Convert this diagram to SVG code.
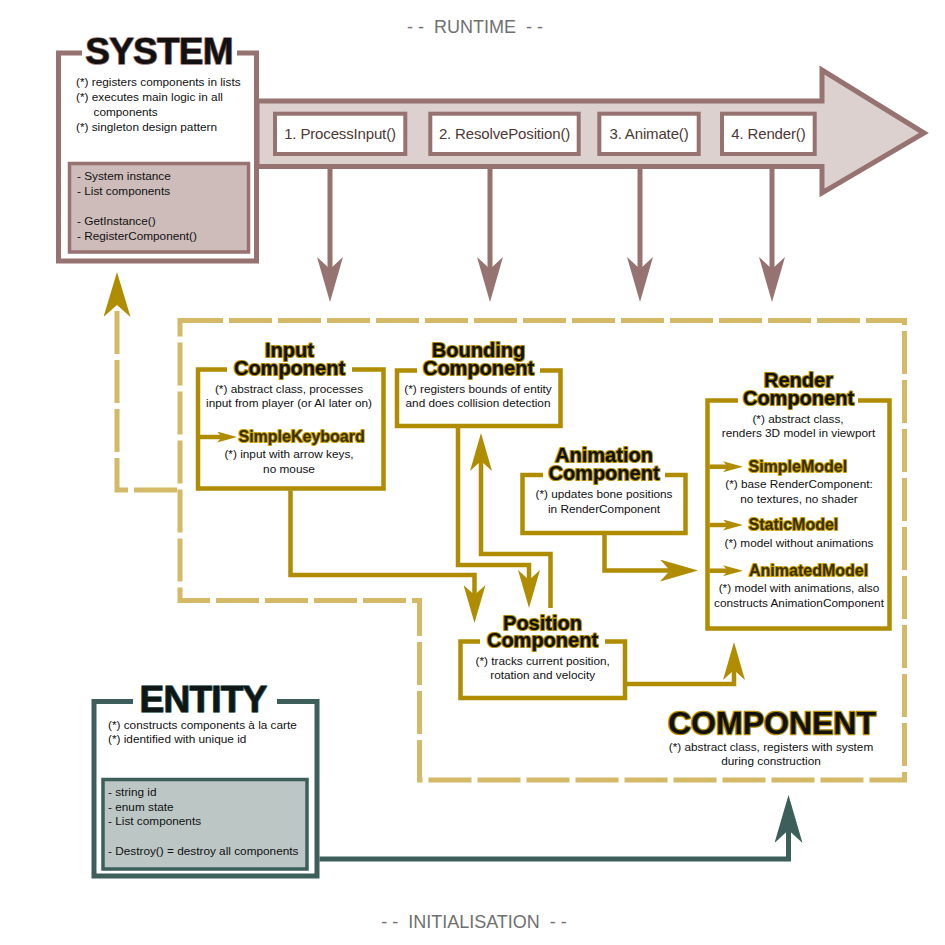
<svg xmlns="http://www.w3.org/2000/svg" width="945" height="945" viewBox="0 0 945 945">
<style>
text{font-family:"Liberation Sans",Arial,sans-serif;}
.t{font-size:11.8px;fill:#111;}
.c{text-anchor:middle;}
.step{font-size:15px;fill:#4e3836;text-anchor:middle;letter-spacing:-0.15px;}
.title{font-size:20px;font-weight:bold;fill:#111;stroke:#b08c00;stroke-width:2.2px;paint-order:stroke;stroke-linejoin:round;text-anchor:middle;}
.sub{font-size:16px;font-weight:bold;fill:#3a2f00;stroke:#c9a200;stroke-width:2px;paint-order:stroke;stroke-linejoin:round;}
.big{font-weight:bold;paint-order:stroke;stroke-linejoin:round;text-anchor:middle;}
.gframe{fill:#fff;stroke:#b08c00;stroke-width:4.5;}
.gline{fill:none;stroke:#b08c00;stroke-width:4.5;}
.bline{fill:none;stroke:#967270;stroke-width:5;}
.dash{fill:none;stroke:#d4ba66;stroke-width:5;stroke-dasharray:43 6;}
.label{font-size:18px;fill:#707070;text-anchor:middle;white-space:pre;}
</style>
<defs>
<marker id="mBrown" markerUnits="userSpaceOnUse" orient="auto" markerWidth="45" markerHeight="26" refX="14" refY="13" viewBox="0 0 45 26"><path d="M0,0 L45,13 L0,26 L12,13 Z" fill="#967270"/></marker>
<marker id="mGold" markerUnits="userSpaceOnUse" orient="auto" markerWidth="38" markerHeight="22" refX="12" refY="11" viewBox="0 0 38 22"><path d="M0,0 L38,11 L0,22 L10,11 Z" fill="#b08c00"/></marker>
<marker id="mGoldS" markerUnits="userSpaceOnUse" orient="auto" markerWidth="20" markerHeight="11" refX="6" refY="5.5" viewBox="0 0 20 11"><path d="M0,0 L20,5.5 L0,11 L5,5.5 Z" fill="#b08c00"/></marker>
<marker id="mGoldD" markerUnits="userSpaceOnUse" orient="auto" markerWidth="45" markerHeight="27" refX="14" refY="13.5" viewBox="0 0 45 27"><path d="M0,0 L45,13.5 L0,27 L12,13.5 Z" fill="#b08c00"/></marker>
<marker id="mTeal" markerUnits="userSpaceOnUse" orient="auto" markerWidth="48" markerHeight="28" refX="15" refY="14" viewBox="0 0 48 28"><path d="M0,0 L48,14 L0,28 L13,14 Z" fill="#3c5f5c"/></marker>
</defs>

<rect width="945" height="945" fill="#fff"/>

<text class="label" x="475" y="33">- -  RUNTIME  - -</text>
<text class="label" x="474" y="928">- -  INITIALISATION  - -</text>

<g id="component-boundary">
<path class="dash" d="M180,320.5 H904.5 V780 H419.5 V600.5 H180 Z"/>
<text class="big" x="772" y="734" font-size="32" fill="#111" stroke="#b08c00" stroke-width="2.5">COMPONENT</text>
<text class="t c" x="771" y="750.5">(*) abstract class, registers with system</text>
<text class="t c" x="771" y="764.5">during construction</text>
</g>

<g id="runtime-arrow">
<path d="M257,101 H822 V70 L924,133 L822,193 V166.5 H257 Z" fill="#ddd1d0" stroke="#967270" stroke-width="5" stroke-linejoin="miter"/>
<rect x="275" y="113.7" width="130.3" height="40.3" fill="#fff" stroke="#967270" stroke-width="4"/>
<text class="step" x="340" y="138.5">1. ProcessInput()</text>
<rect x="430.3" y="113.7" width="148.4" height="40.3" fill="#fff" stroke="#967270" stroke-width="4"/>
<text class="step" x="504.5" y="138.5">2. ResolvePosition()</text>
<rect x="599.3" y="113.7" width="99.4" height="40.3" fill="#fff" stroke="#967270" stroke-width="4"/>
<text class="step" x="649" y="138.5">3. Animate()</text>
<rect x="722" y="113.7" width="92.7" height="40.3" fill="#fff" stroke="#967270" stroke-width="4"/>
<text class="step" x="768.4" y="138.5">4. Render()</text>
</g>

<g id="system">
<path d="M237,53 H256.5 V261 H58.5 V53 H82" fill="#fff" stroke="#967270" stroke-width="5"/>
<text class="big" x="159" y="64" font-size="37" letter-spacing="-0.8" fill="#111" stroke="#967270" stroke-width="1.5">SYSTEM</text>
<text class="t" x="76" y="86">(*) registers components in lists</text>
<text class="t" x="76" y="101">(*) executes main logic in all</text>
<text class="t" x="93.5" y="116">components</text>
<text class="t" x="76" y="131">(*) singleton design pattern</text>
<rect x="69.5" y="163.5" width="179" height="88.5" fill="#cdbcba" stroke="#967270" stroke-width="3.5"/>
<text class="t" x="77" y="180">- System instance</text>
<text class="t" x="77" y="195">- List components</text>
<text class="t" x="77" y="225">- GetInstance()</text>
<text class="t" x="77" y="240">- RegisterComponent()</text>
</g>

<g id="input-component">
<path class="gframe" d="M352,369.5 H383.5 V488.5 H198 V369.5 H227"/>
<text class="title" x="289.5" y="357">Input</text>
<text class="title" x="289.5" y="375">Component</text>
<text class="t c" x="289" y="392.5">(*) abstract class, processes</text>
<text class="t c" x="289" y="407">input from player (or AI later on)</text>
<text class="sub" x="238.5" y="442">SimpleKeyboard</text>
<text class="t c" x="289" y="458">(*) input with arrow keys,</text>
<text class="t c" x="289" y="472.5">no mouse</text>
</g>

<g id="bounding-component">
<path class="gframe" d="M540,370.5 H560.5 V426 H397 V370.5 H417"/>
<text class="title" x="478.5" y="357">Bounding</text>
<text class="title" x="478.5" y="375">Component</text>
<text class="t c" x="478" y="392.5">(*) registers bounds of entity</text>
<text class="t c" x="478" y="407">and does collision detection</text>
</g>

<g id="animation-component">
<path class="gframe" d="M665,475 H685.5 V533 H522.5 V475 H543"/>
<text class="title" x="604" y="461.5">Animation</text>
<text class="title" x="604" y="479.5">Component</text>
<text class="t c" x="604" y="498.3">(*) updates bone positions</text>
<text class="t c" x="604" y="513.3">in RenderComponent</text>
</g>

<g id="render-component">
<path class="gframe" d="M858,400.5 H889.5 V628.5 H707.5 V400.5 H738"/>
<text class="title" x="798.5" y="387">Render</text>
<text class="title" x="798.5" y="405">Component</text>
<text class="t c" x="798" y="423.3">(*) abstract class,</text>
<text class="t c" x="798.5" y="437.3">renders 3D model in viewport</text>
<text class="sub" x="748.5" y="471.7">SimpleModel</text>
<text class="t c" x="799" y="488.3">(*) base RenderComponent:</text>
<text class="t c" x="799" y="502.7">no textures, no shader</text>
<text class="sub" x="748.5" y="530">StaticModel</text>
<text class="t c" x="799" y="546.7">(*) model without animations</text>
<text class="sub" x="749" y="576">AnimatedModel</text>
<text class="t c" x="799" y="592.3">(*) model with animations, also</text>
<text class="t c" x="799" y="606.7">constructs AnimationComponent</text>
</g>

<g id="position-component">
<path class="gframe" d="M605,641.5 H625 V698 H460.5 V641.5 H480"/>
<text class="title" x="542.5" y="630">Position</text>
<text class="title" x="542.5" y="646.7">Component</text>
<text class="t c" x="542.7" y="665">(*) tracks current position,</text>
<text class="t c" x="542.7" y="679.3">rotation and velocity</text>
</g>

<g id="entity">
<path d="M277,701.5 H317 V876 H94 V701.5 H133" fill="#fff" stroke="#3c5f5c" stroke-width="5"/>
<text class="big" x="203" y="712" font-size="37" letter-spacing="-0.8" fill="#0e1716" stroke="#3c5f5c" stroke-width="1.5">ENTITY</text>
<text class="t" x="108" y="729">(*) constructs components à la carte</text>
<text class="t" x="108" y="743">(*) identified with unique id</text>
<rect x="103" y="779.5" width="204" height="89.5" fill="#bcc7c5" stroke="#3c5f5c" stroke-width="3.5"/>
<text class="t" x="108" y="796">- string id</text>
<text class="t" x="108" y="810.5">- enum state</text>
<text class="t" x="108" y="825">- List components</text>
<text class="t" x="108" y="855">- Destroy() = destroy all components</text>
</g>

<g id="connectors">
<path class="bline" d="M330,169 V271" marker-end="url(#mBrown)"/>
<path class="bline" d="M490,169 V271" marker-end="url(#mBrown)"/>
<path class="bline" d="M640,169 V271" marker-end="url(#mBrown)"/>
<path class="bline" d="M772,169 V271" marker-end="url(#mBrown)"/>
<path class="dash" d="M177,490 H117 V303" marker-end="url(#mGoldD)"/>
<path class="gline" d="M290.5,490.5 V575 H474.5 V597" marker-end="url(#mGold)"/>
<path class="gline" d="M458,428 V565 H529 V582" marker-end="url(#mGold)"/>
<path class="gline" d="M550.5,608 V554 H481 V459" marker-end="url(#mGold)"/>
<path class="gline" d="M604.5,535 V570.5 H672" marker-end="url(#mGold)"/>
<path class="gline" d="M627,684 H734 V668" marker-end="url(#mGold)"/>
<path class="gline" d="M200,437 H223" marker-end="url(#mGoldS)"/>
<path class="gline" d="M709.5,466.7 H729" marker-end="url(#mGoldS)"/>
<path class="gline" d="M709.5,525 H729" marker-end="url(#mGoldS)"/>
<path class="gline" d="M709.5,570.7 H729" marker-end="url(#mGoldS)"/>
<path fill="none" stroke="#3c5f5c" stroke-width="5" d="M319.5,859 H788.5 V828" marker-end="url(#mTeal)"/>
</g>
</svg>
